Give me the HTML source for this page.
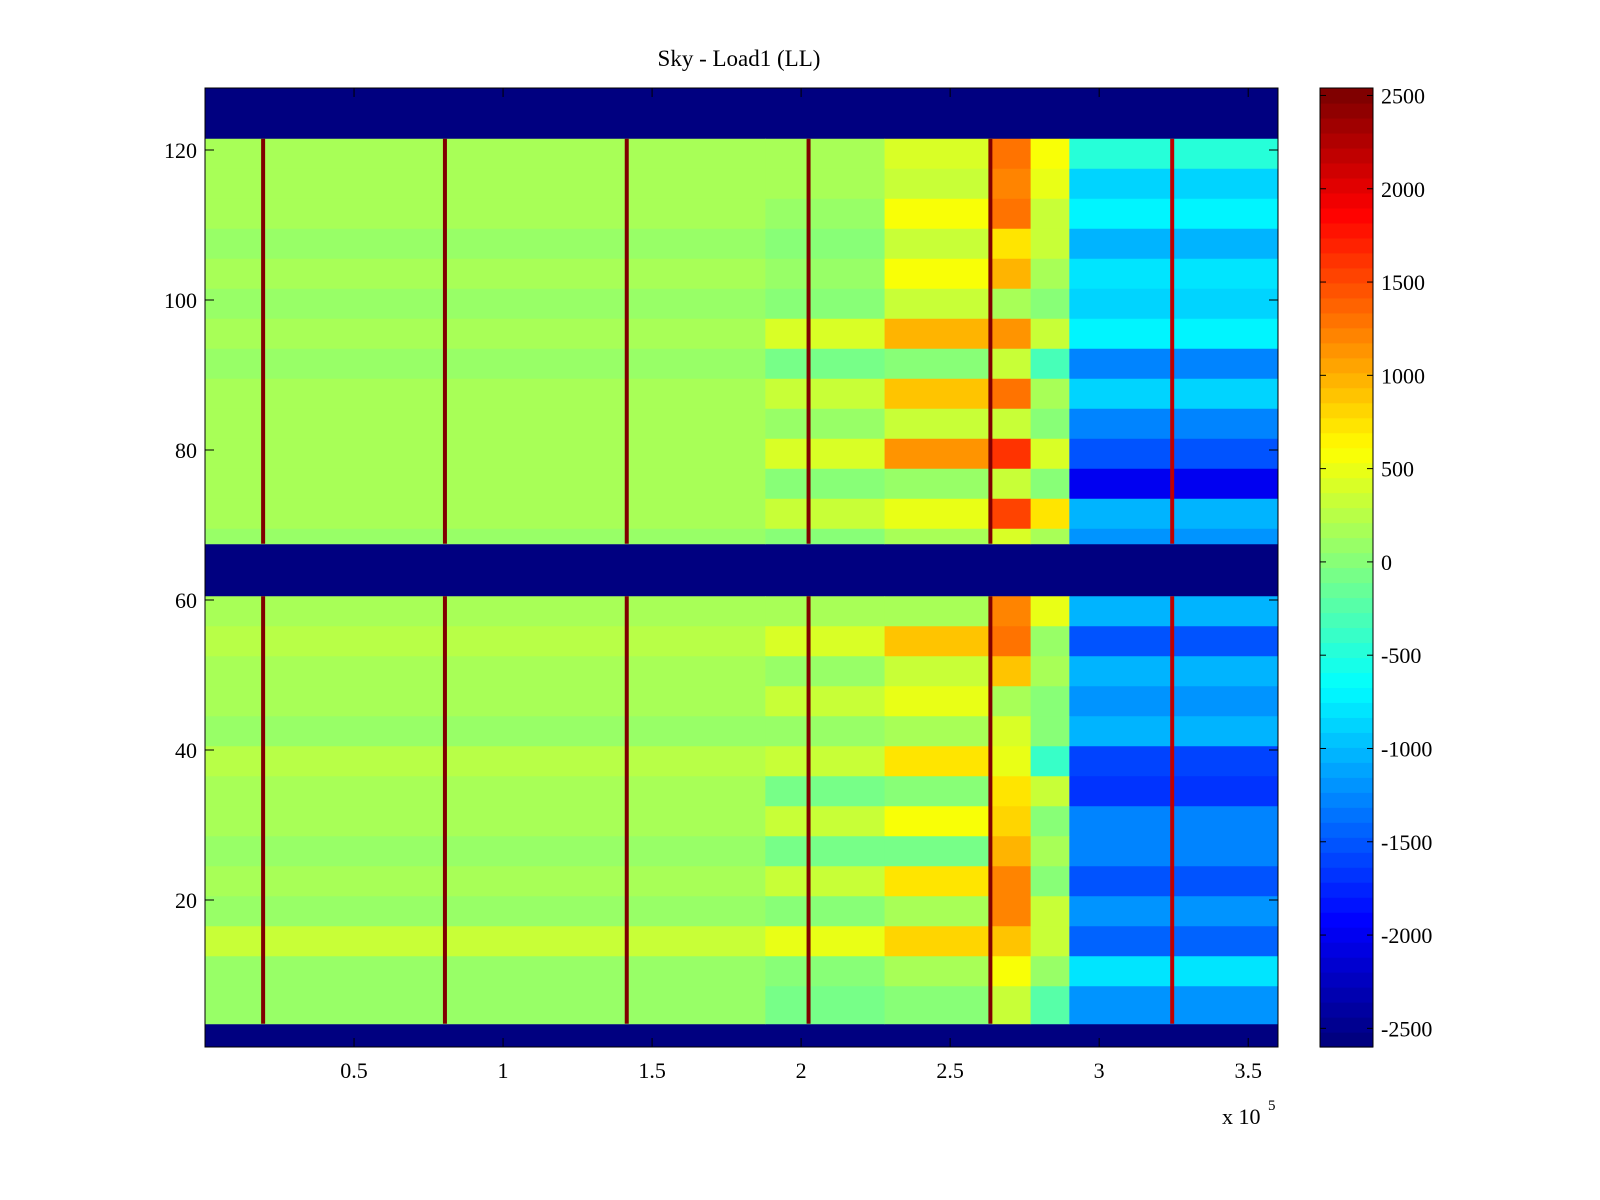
<!DOCTYPE html>
<html><head><meta charset="utf-8">
<style>
html,body{margin:0;padding:0;background:#fff;}
svg{display:block;font-family:"Liberation Serif",serif;}
</style></head>
<body>
<svg id="chart" width="1600" height="1200" viewBox="0 0 1600 1200" xmlns="http://www.w3.org/2000/svg">
<rect x="0" y="0" width="1600" height="1200" fill="#fff"/>
<text x="739" y="66" font-size="23" text-anchor="middle">Sky - Load1 (LL)</text>
<g id="cells"></g>
<g id="axes"></g>
<g id="cbar"></g>
</svg>
<script>
// ---- data ----
const colEdges = [0, 1.88, 2.28, 2.64, 2.77, 2.9, 3.6]; // x (1e5) block edges
const upperBandStart = [118,114,110,106,102,98,94,90,86,82,78,74,70,68];
const upperTopRow = 121;
const upperValues = [
 [200,200,400,1300,600,-500],
 [150,150,300,1200,500,-900],
 [150,100,600,1300,300,-700],
 [100,50,300,700,300,-1000],
 [150,100,600,1000,200,-800],
 [100,0,300,200,0,-900],
 [200,400,1000,1100,300,-700],
 [100,-100,0,300,-300,-1300],
 [150,300,900,1300,200,-900],
 [150,100,300,300,0,-1300],
 [200,400,1100,1600,400,-1500],
 [150,0,100,300,0,-2000],
 [200,300,500,1500,700,-1000],
 [100,0,200,400,200,-1200]
];
const lowerBandStart = [57,53,49,45,41,37,33,29,25,21,17,13,9,4];
const lowerTopRow = 60;
const lowerValues = [
 [150,150,200,1200,500,-1000],
 [250,400,900,1300,100,-1500],
 [150,100,300,900,200,-1000],
 [200,300,500,200,0,-1200],
 [100,100,200,400,0,-1000],
 [250,300,700,500,-400,-1600],
 [150,-100,0,700,300,-1700],
 [150,300,600,800,0,-1300],
 [100,-100,-100,1000,200,-1300],
 [150,300,700,1200,0,-1500],
 [100,0,200,1200,300,-1200],
 [300,500,800,900,300,-1400],
 [100,0,200,600,100,-800],
 [100,-100,0,300,-200,-1200]
];
const spikeX = [0.195, 0.805, 1.415, 2.025, 2.635, 3.245];
const spikeValue = [2540, 2540, 2540, 2540, 2540, 2200];
const xTicks = [0.5,1,1.5,2,2.5,3,3.5];
const xTickLabels = ["0.5","1","1.5","2","2.5","3","3.5"];
const yTicks = [20,40,60,80,100,120];
const cTicks = [2500,2000,1500,1000,500,0,-500,-1000,-1500,-2000,-2500];
const bgValue = -2600;

// ---- scales ----
const X0=205, X1=1278, Y0=88, Y1=1047;
const xMin=0, xMax=3.6;
const sx = v => X0 + (v - xMin) / (xMax - xMin) * (X1 - X0);
const sy = r => 1050 - 7.5 * r;
const cMin=-2600, cMax=2540;
const CB0=88, CB1=1047;
const sc = v => CB1 - (v - cMin) / (cMax - cMin) * (CB1 - CB0);

function jet(v){
  let t=(v-cMin)/(cMax-cMin); t=Math.max(0,Math.min(1,t));
  t=Math.min(63,Math.floor(t*64))/63;
  const f=x=>Math.max(0,Math.min(1,x));
  const r=f(1.5-Math.abs(4*t-3)), g=f(1.5-Math.abs(4*t-2)), b=f(1.5-Math.abs(4*t-1));
  return `rgb(${Math.round(r*255)},${Math.round(g*255)},${Math.round(b*255)})`;
}
const NS="http://www.w3.org/2000/svg";
function mk(tag, attrs, parent){
  const e=document.createElementNS(NS,tag);
  for(const k in attrs) e.setAttribute(k, attrs[k]);
  parent.appendChild(e); return e;
}
const cells=document.getElementById('cells');
// background
const bg=mk('rect',{x:X0,y:Y0,width:X1-X0,height:Y1-Y0,fill:jet(bgValue)},cells);



function drawSection(starts, topRow, values, name){
  for(let i=0;i<starts.length;i++){
    const lo=starts[i]-0.5;
    const hi=(i===0?topRow:starts[i-1]-1)+0.5;
    for(let j=0;j<colEdges.length-1;j++){
      const r=mk('rect',{x:sx(colEdges[j]),y:sy(hi),width:sx(colEdges[j+1])-sx(colEdges[j])+0.5,height:sy(lo)-sy(hi)+0.5,fill:jet(values[i][j])},cells);
      
      
    }
  }
  const bottom=starts[starts.length-1]-0.5, top=topRow+0.5;
  for(let k=0;k<spikeX.length;k++){
    const l=mk('rect',{x:sx(spikeX[k])-2,y:sy(top),width:4,height:sy(bottom)-sy(top),fill:jet(spikeValue[k])},cells);
    
    
  }
}
drawSection(upperBandStart, upperTopRow, upperValues, 'upper');
drawSection(lowerBandStart, lowerTopRow, lowerValues, 'lower');

// ---- axes ----
const ax=document.getElementById('axes');
const fr=mk('rect',{x:X0,y:Y0,width:X1-X0,height:Y1-Y0,fill:'none',stroke:'#000','stroke-width':1},ax);


xTicks.forEach((v,i)=>{
  const x=sx(v);
  mk('line',{x1:x,y1:Y1,x2:x,y2:Y1-9,stroke:'#000'},ax);
  mk('line',{x1:x,y1:Y0,x2:x,y2:Y0+9,stroke:'#000'},ax);
  const t=mk('text',{x:x,y:1078,'font-size':22,'text-anchor':'middle'},ax);
  t.textContent=xTickLabels[i];
  
  
});
const ex=mk('text',{x:1222,y:1124,'font-size':22},ax);
ex.textContent='x 10';


const ex5=mk('text',{x:1268,y:1110,'font-size':15},ax);
ex5.textContent='5';


yTicks.forEach(v=>{
  const y=sy(v);
  mk('line',{x1:X0,y1:y,x2:X0+9,y2:y,stroke:'#000'},ax);
  mk('line',{x1:X1,y1:y,x2:X1-9,y2:y,stroke:'#000'},ax);
  const t=mk('text',{x:197,y:y+8,'font-size':22,'text-anchor':'end'},ax);
  t.textContent=String(v);
  
  
});

// ---- colorbar ----
const cb=document.getElementById('cbar');
const CX0=1320, CX1=1373;
for(let k=0;k<64;k++){
  const v0=cMin+(cMax-cMin)*k/64, v1=cMin+(cMax-cMin)*(k+1)/64;
  const r=mk('rect',{x:CX0,y:sc(v1),width:CX1-CX0,height:sc(v0)-sc(v1)+0.6,fill:jet((v0+v1)/2)},cb);
  
  
}
mk('rect',{x:CX0,y:CB0,width:CX1-CX0,height:CB1-CB0,fill:'none',stroke:'#000'},cb);
cTicks.forEach(v=>{
  const y=sc(v);
  mk('line',{x1:CX0,y1:y,x2:CX0+6,y2:y,stroke:'#000'},cb);
  mk('line',{x1:CX1,y1:y,x2:CX1-6,y2:y,stroke:'#000'},cb);
  const t=mk('text',{x:1381,y:y+8,'font-size':22},cb);
  t.textContent=String(v);
  
  
});
</script>
</body></html>
